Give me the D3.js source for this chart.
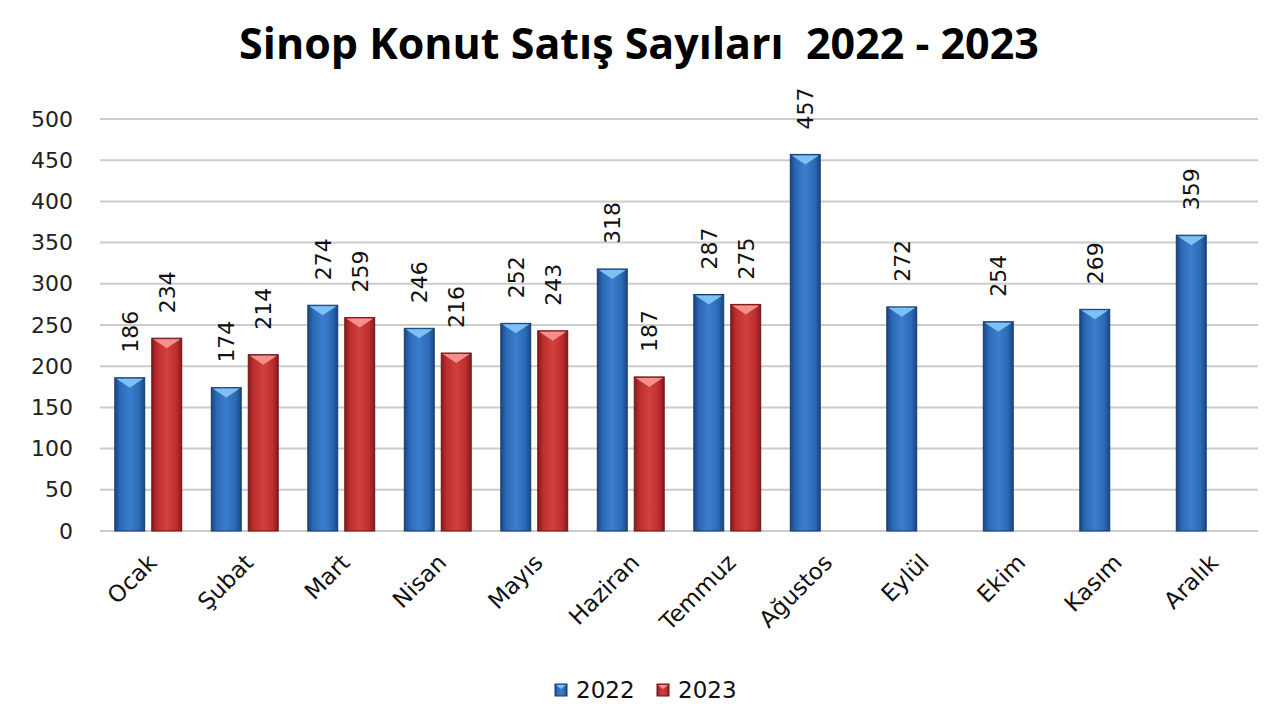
<!DOCTYPE html>
<html>
<head>
<meta charset="utf-8">
<script src="https://cdn.jsdelivr.net/npm/d3@7"></script>
<style>
  body { margin: 0; background: #fff; }
  svg { display: block; }
</style>
</head>
<body>
<div id="chart"></div>
<script>
var svgWidth = 1280;
var svgHeight = 720;

// data
var months = ["Ocak", "Şubat", "Mart", "Nisan", "Mayıs", "Haziran", "Temmuz", "Ağustos", "Eylül", "Ekim", "Kasım", "Aralık"];
var sales2022 = [186, 174, 274, 246, 252, 318, 287, 457, 272, 254, 269, 359];
var sales2023 = [234, 214, 259, 216, 243, 187, 275, null, null, null, null, null];
var seriesNames = ["2022", "2023"];
var yTicks = [0, 50, 100, 150, 200, 250, 300, 350, 400, 450, 500];

var plot = { left: 100, right: 1258, top: 119, bottom: 531 };

var svg = d3.select("#chart")
  .append("svg")
  .attr("width", svgWidth)
  .attr("height", svgHeight);

// gradients for the bevelled bars
var defs = svg.append("defs");
var palettes = {
  "2022": { edge: "#1a4682", mid: "#2c69b5", center: "#3b7ecd", top: "#7cc0f4", stroke: "#163a6a" },
  "2023": { edge: "#861a1c", mid: "#bd2e2e", center: "#d0403e", top: "#f4908c", stroke: "#6a1416" }
};
seriesNames.forEach(function(s) {
  var p = palettes[s];
  var g = defs.append("linearGradient")
    .attr("id", "grad" + s)
    .attr("x1", "0%").attr("x2", "100%").attr("y1", "0%").attr("y2", "0%");
  g.append("stop").attr("offset", "0%").attr("stop-color", p.edge);
  g.append("stop").attr("offset", "18%").attr("stop-color", p.mid);
  g.append("stop").attr("offset", "50%").attr("stop-color", p.center);
  g.append("stop").attr("offset", "82%").attr("stop-color", p.mid);
  g.append("stop").attr("offset", "100%").attr("stop-color", p.edge);
});

// scales
var x0 = d3.scaleBand()
  .domain(months)
  .range([plot.left, plot.right]);

var x1 = d3.scaleBand()
  .domain(seriesNames)
  .range([0, x0.bandwidth()])
  .paddingInner(0.19)
  .paddingOuter(0.4);

var y = d3.scaleLinear()
  .domain([0, 500])
  .range([plot.bottom, plot.top]);

// title
svg.append("text")
  .attr("x", 639)
  .attr("y", 59)
  .attr("text-anchor", "middle")
  .style("font-family", "'Open Sans', sans-serif")
  .style("font-weight", "700")
  .style("font-size", "43px")
  .style("fill", "#000")
  .attr("xml:space", "preserve")
  .text("Sinop Konut Satış Sayıları  2022 - 2023");

// gridlines
svg.append("g")
  .selectAll("line")
  .data(yTicks)
  .enter()
  .append("line")
  .attr("x1", plot.left)
  .attr("x2", plot.right)
  .attr("y1", d => y(d))
  .attr("y2", d => y(d))
  .attr("stroke", "#cccccc")
  .attr("stroke-width", 2);

// y axis labels
var leftAxis = d3.axisLeft(y).tickValues(yTicks).tickSize(0).tickPadding(0);
var yAxisG = svg.append("g")
  .attr("transform", `translate(${plot.left - 27}, 0)`)
  .call(leftAxis);
yAxisG.select(".domain").remove();
yAxisG.selectAll("text")
  .style("font-family", "'DejaVu Sans', sans-serif")
  .style("font-size", "22px")
  .style("fill", "#222");

// bars
var rows = months.map(function(m, i) {
  return { month: m, values: [
    { series: "2022", value: sales2022[i] },
    { series: "2023", value: sales2023[i] }
  ] };
});

var groups = svg.append("g")
  .selectAll("g")
  .data(rows)
  .enter()
  .append("g")
  .attr("transform", d => `translate(${x0(d.month)}, 0)`);

var bars = groups.selectAll("g.bar")
  .data(d => d.values.filter(v => v.value != null))
  .enter()
  .append("g")
  .attr("class", "bar");

bars.append("rect")
  .attr("x", d => x1(d.series))
  .attr("y", d => y(d.value))
  .attr("width", x1.bandwidth())
  .attr("height", d => y(0) - y(d.value))
  .attr("fill", d => "url(#grad" + d.series + ")")
  .attr("stroke", d => palettes[d.series].stroke)
  .attr("stroke-width", 1);

// light bevel on the top of each bar
bars.append("path")
  .attr("d", function(d) {
    var bx = x1(d.series) + 1.5, bw = x1.bandwidth() - 3, by = y(d.value) + 1;
    return `M${bx},${by} L${bx + bw},${by} L${bx + bw / 2},${by + 9} Z`;
  })
  .attr("fill", d => palettes[d.series].top);

// value labels
bars.append("text")
  .attr("transform", d => `translate(${x1(d.series) + x1.bandwidth() / 2 + 8}, ${y(d.value) - 25}) rotate(-90)`)
  .attr("text-anchor", "start")
  .style("font-family", "'DejaVu Sans', sans-serif")
  .style("font-size", "22px")
  .style("fill", "#111")
  .text(d => d.value);

// x labels
svg.append("g")
  .selectAll("text")
  .data(months)
  .enter()
  .append("text")
  .attr("transform", d => `translate(${x0(d) + x0.bandwidth() / 2 + 10}, ${plot.bottom + 33}) rotate(-45)`)
  .attr("text-anchor", "end")
  .style("font-family", "'DejaVu Sans', sans-serif")
  .style("font-size", "23px")
  .style("fill", "#111")
  .text(d => d);

// legend
var legend = svg.append("g")
  .selectAll("g")
  .data(seriesNames)
  .enter()
  .append("g")
  .attr("transform", (d, i) => `translate(${555 + i * 102}, 684)`);

legend.append("rect")
  .attr("width", 12)
  .attr("height", 12)
  .attr("fill", d => "url(#grad" + d + ")")
  .attr("stroke", d => palettes[d].stroke);

legend.append("path")
  .attr("d", "M1,1 L11,1 L6,5 Z")
  .attr("fill", d => palettes[d].top);

legend.append("text")
  .attr("x", 21)
  .attr("y", 14)
  .style("font-family", "'DejaVu Sans', sans-serif")
  .style("font-size", "23px")
  .style("fill", "#111")
  .text(d => d);
</script>
</body>
</html>
